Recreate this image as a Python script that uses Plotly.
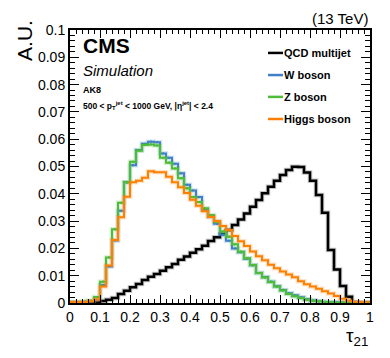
import plotly.graph_objects as go

# tau21 binning: 50 bins of 0.02
bin_edges = [round(0.02 * i, 2) for i in range(51)]

qcd = [0, 0, 0, 0, 0.0002, 0.0007, 0.0012, 0.0018, 0.0033, 0.0045,
       0.0058, 0.0070, 0.0084, 0.0096, 0.0106, 0.0118, 0.0131, 0.0143, 0.0158, 0.0170,
       0.0184, 0.0197, 0.0210, 0.0227, 0.0241, 0.0253, 0.0267, 0.0286, 0.0306, 0.0328,
       0.0353, 0.0377, 0.0402, 0.0426, 0.0448, 0.0469, 0.0487, 0.0499, 0.0498, 0.0478,
       0.0448, 0.0396, 0.0331, 0.0194, 0.0123, 0.0062, 0.0023, 0.0003, 0, 0]
w_boson = [0.0003, 0.0003, 0.0004, 0.0006, 0.0012, 0.0066, 0.0134, 0.0229, 0.0338, 0.0442,
           0.0505, 0.0560, 0.0583, 0.0591, 0.0589, 0.0548, 0.0532, 0.0510, 0.0475, 0.0433,
           0.0412, 0.0388, 0.0342, 0.0316, 0.0290, 0.0250, 0.0228, 0.0200, 0.0186, 0.0162,
           0.0138, 0.0110, 0.0095, 0.0078, 0.0061, 0.0048, 0.0036, 0.0028, 0.0021, 0.0014,
           0.0009, 0.0006, 0.0004, 0.0003, 0.0002, 0.0002, 0.0001, 0.0001, 0.0001, 0.0001]
z_boson = [0.0003, 0.0003, 0.0005, 0.0008, 0.0022, 0.0078, 0.0167, 0.0270, 0.0367, 0.0442,
           0.0517, 0.0558, 0.0579, 0.0581, 0.0577, 0.0532, 0.0514, 0.0493, 0.0457, 0.0420,
           0.0388, 0.0370, 0.0347, 0.0322, 0.0298, 0.0262, 0.0243, 0.0215, 0.0188, 0.0164,
           0.0139, 0.0110, 0.0093, 0.0077, 0.0060, 0.0046, 0.0033, 0.0025, 0.0018, 0.0012,
           0.0008, 0.0006, 0.0004, 0.0003, 0.0002, 0.0002, 0.0001, 0.0001, 0.0001, 0.0001]
higgs = [0.0004, 0.0004, 0.0004, 0.0006, 0.0013, 0.0060, 0.0137, 0.0231, 0.0314, 0.0389,
         0.0442, 0.0448, 0.0459, 0.0483, 0.0479, 0.0479, 0.0462, 0.0442, 0.0424, 0.0403,
         0.0378, 0.0356, 0.0336, 0.0315, 0.0300, 0.0282, 0.0267, 0.0245, 0.0226, 0.0209,
         0.0189, 0.0171, 0.0157, 0.0140, 0.0127, 0.0115, 0.0104, 0.0094, 0.0080, 0.0069,
         0.0060, 0.0052, 0.0043, 0.0035, 0.0026, 0.0016, 0.0009, 0.0005, 0.0003, 0.0002]

series_names = ['QCD multijet', 'W boson', 'Z boson', 'Higgs boson']
series_vals = [qcd, w_boson, z_boson, higgs]
series_cols = ['#000000', '#3f80c8', '#4cbc3a', '#ff8000']
stat_err = 0.0004

x_tickvals = [0, 0.1, 0.2, 0.3, 0.4, 0.5, 0.6, 0.7, 0.8, 0.9, 1]
x_ticktext = ['0', '0.1', '0.2', '0.3', '0.4', '0.5', '0.6', '0.7', '0.8', '0.9', '1']
y_tickvals = [0, 0.01, 0.02, 0.03, 0.04, 0.05, 0.06, 0.07, 0.08, 0.09, 0.1]
y_ticktext = ['0', '0.01', '0.02', '0.03', '0.04', '0.05', '0.06', '0.07', '0.08', '0.09', '0.1']

FONT = 'Liberation Sans, Arial, Helvetica, sans-serif'

fig = go.Figure()
centers = [(bin_edges[i] + bin_edges[i + 1]) / 2 for i in range(len(bin_edges) - 1)]
for name, vals, col in zip(series_names, series_vals, series_cols):
    xs = bin_edges
    ys = vals + [vals[-1]]
    # soft halo like the antialiased ROOT lines
    fig.add_trace(go.Scatter(x=xs, y=ys, mode='lines', line=dict(shape='hv', color=col, width=4.5),
                             opacity=0.22, showlegend=False, hoverinfo='skip'))
    fig.add_trace(go.Scatter(x=xs, y=ys, mode='lines', name=name,
                             line=dict(shape='hv', color=col, width=2.5 if name == 'QCD multijet' else 2),
                             showlegend=False))
    if name in ('W boson', 'Z boson'):
        fig.add_trace(go.Scatter(x=centers, y=vals, mode='markers', marker=dict(size=1, color=col),
                                 error_y=dict(type='constant', value=stat_err, color=col, thickness=1.5, width=0),
                                 showlegend=False, hoverinfo='skip'))

# legend drawn by hand (ROOT style)
leg_y = [0.916, 0.835, 0.755, 0.674]
for name, col, ly in zip(series_names, series_cols, leg_y):
    fig.add_shape(type='line', xref='paper', yref='paper', x0=0.66, x1=0.71, y0=ly, y1=ly,
                  line=dict(color=col, width=2.5))
    fig.add_annotation(x=0.705, y=ly, xref='paper', yref='paper', text='<b>' + name + '</b>',
                       showarrow=False, xanchor='left', yanchor='middle',
                       font=dict(family=FONT, size=11, color='black'))

fig.add_annotation(x=0.035, y=0.945, xref='paper', yref='paper', text='<b>CMS</b>', showarrow=False,
                   xanchor='left', yanchor='middle', font=dict(family=FONT, size=21, color='black'))
fig.add_annotation(x=0.035, y=0.852, xref='paper', yref='paper', text='<i>Simulation</i>', showarrow=False,
                   xanchor='left', yanchor='middle', font=dict(family=FONT, size=15, color='black'))
fig.add_annotation(x=0.035, y=0.782, xref='paper', yref='paper', text='<b>AK8</b>', showarrow=False,
                   xanchor='left', yanchor='middle', font=dict(family=FONT, size=9, color='black'))
fig.add_annotation(x=0.035, y=0.722, xref='paper', yref='paper',
                   text='<b>500 &lt; p<sub>T</sub><sup>jet</sup> &lt; 1000 GeV, |η<sup>jet</sup>| &lt; 2.4</b>',
                   showarrow=False, xanchor='left', yanchor='middle',
                   font=dict(family=FONT, size=8.5, color='black'))
fig.add_annotation(x=1.0, y=1.005, xref='paper', yref='paper', text='(13 TeV)', showarrow=False,
                   xanchor='right', yanchor='bottom', font=dict(family=FONT, size=15, color='black'))
fig.add_annotation(x=-0.15, y=0.96, xref='paper', yref='paper', text='A.U.', showarrow=False,
                   textangle=-90, xanchor='center', yanchor='middle', font=dict(family=FONT, size=21, color='black'))
fig.add_annotation(x=1.0, y=-0.125, xref='paper', yref='paper', text='τ<sub>21</sub>', showarrow=False,
                   xanchor='right', yanchor='middle', font=dict(family=FONT, size=19, color='black'))

axis_common = dict(showline=True, linecolor='black', linewidth=2, mirror='allticks', ticks='inside',
                   tickcolor='black', tickwidth=1, showgrid=False, zeroline=False, automargin=False,
                   tickfont=dict(family=FONT, size=14, color='black'), tickmode='array')
fig.update_xaxes(range=[0, 1], tickvals=x_tickvals, ticktext=x_ticktext, ticklen=8,
                 minor=dict(dtick=0.02, tick0=0, ticks='inside', ticklen=4, tickcolor='black', showgrid=False),
                 **axis_common)
fig.update_yaxes(range=[0, 0.1], tickvals=y_tickvals, ticktext=y_ticktext, ticklen=9,
                 minor=dict(dtick=0.002, tick0=0, ticks='inside', ticklen=5, tickcolor='black', showgrid=False),
                 **axis_common)

# the page adds an 8px body margin, so the figure is 8px smaller on each side
fig.update_layout(width=382, height=350, margin=dict(l=62, r=20, t=22, b=55),
                  plot_bgcolor='white', paper_bgcolor='white', showlegend=False,
                  font=dict(family=FONT, color='black'))
fig.write_html("out.html")
